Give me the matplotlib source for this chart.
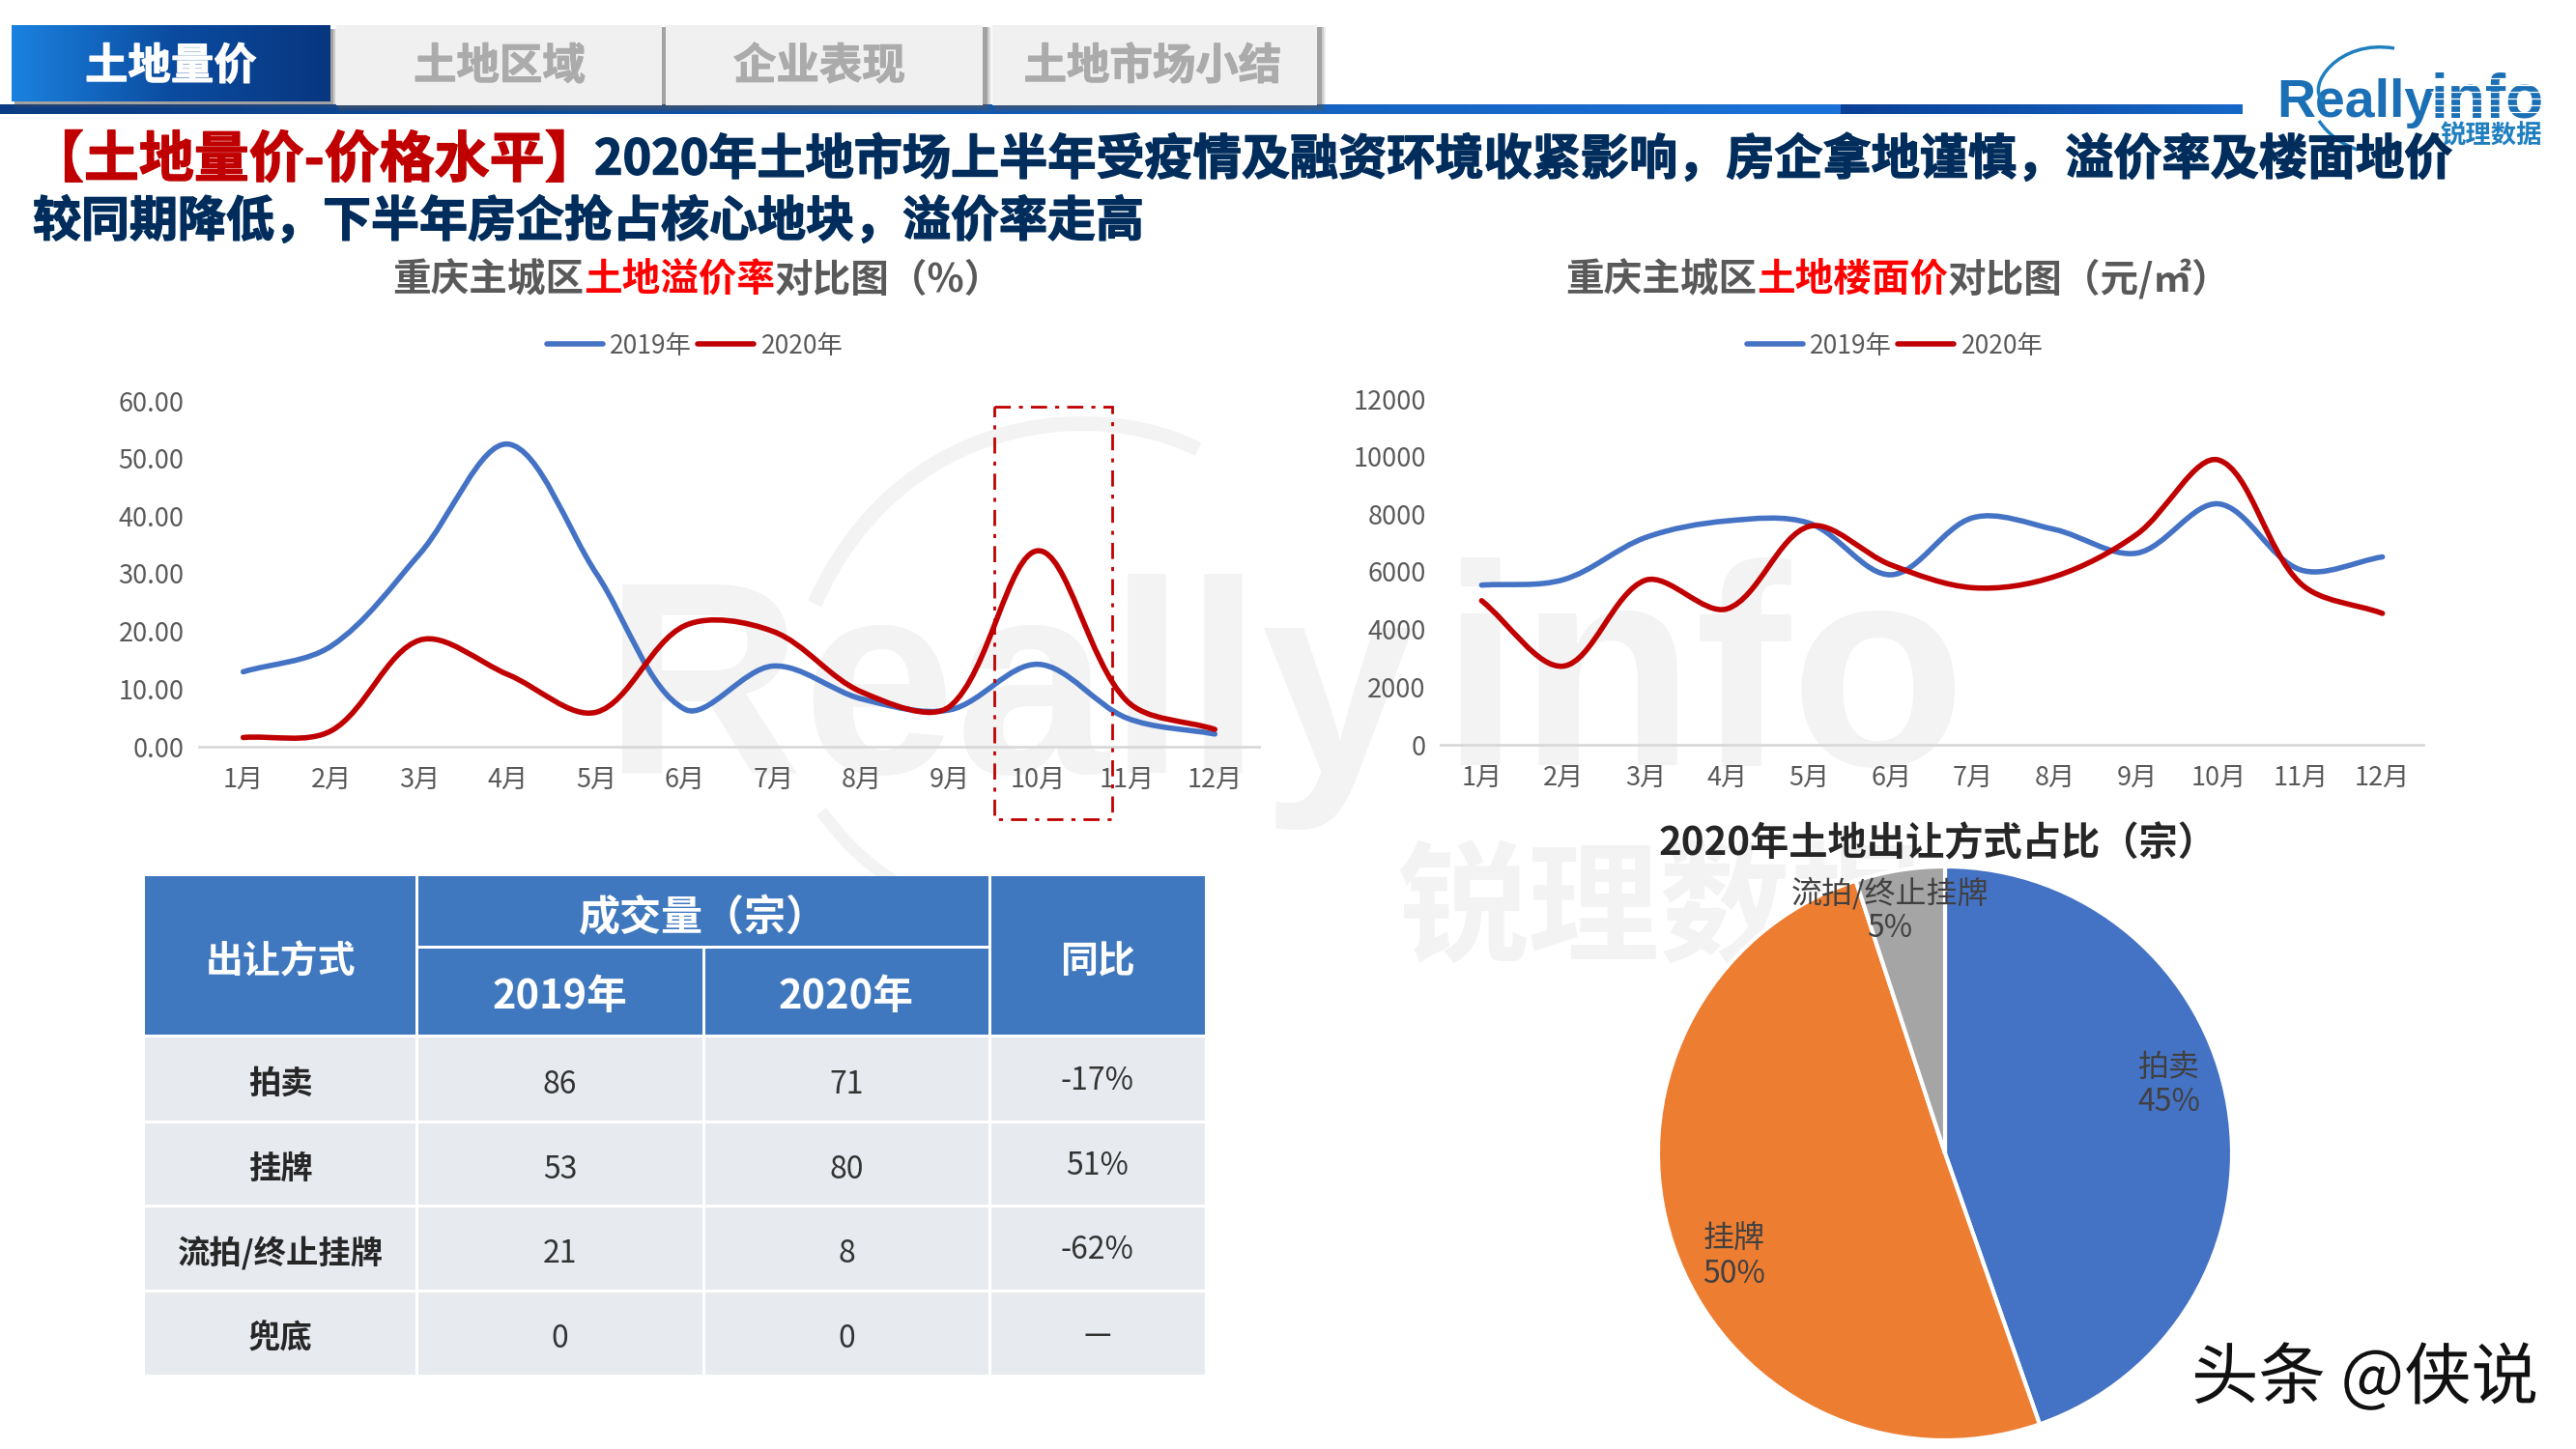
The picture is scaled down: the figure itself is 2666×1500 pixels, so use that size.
import numpy as np
import matplotlib
matplotlib.use('Agg')
import matplotlib.pyplot as plt
import matplotlib.patheffects as pe
from matplotlib.path import Path
from matplotlib.patches import PathPatch, Rectangle
from matplotlib.colors import LinearSegmentedColormap

plt.rcParams['font.family'] = ['Noto Sans CJK SC', 'DejaVu Sans']

W, H = 2666, 1500

months = ['1月', '2月', '3月', '4月', '5月', '6月', '7月', '8月', '9月', '10月', '11月', '12月']
premium_2019 = [13, 17.5, 33.5, 52.5, 30, 6.5, 14, 8.3, 6.4, 14.3, 5, 2.2]
premium_2020 = [1.6, 2.8, 18.5, 12.5, 6, 21, 20, 9.5, 7, 34, 8, 3]
price_2019 = [5540, 5730, 7190, 7770, 7690, 5900, 7880, 7470, 6650, 8360, 6070, 6520]
price_2020 = [5000, 2730, 5710, 4720, 7580, 6240, 5450, 5840, 7300, 9880, 5600, 4560]

tabs = ['土地量价', '土地区域', '企业表现', '土地市场小结']

methods = ['拍卖', '挂牌', '流拍/终止挂牌', '兜底']
deals_2019 = [86, 53, 21, 0]
deals_2020 = [71, 80, 8, 0]
yoy = ['-17%', '51%', '-62%', '—']

pie_names = ['拍卖', '挂牌', '流拍/终止挂牌']
pie_values = [71, 80, 8]
pie_pct = ['45%', '50%', '5%']

BLUE = '#4472C4'
RED = '#C00000'
GREY = '#595959'

fig = plt.figure(figsize=(W / 100, H / 100), dpi=100, facecolor='white')


def px_axes(left, top, right, bottom, **kw):
    return fig.add_axes([left / W, 1 - bottom / H, (right - left) / W, (bottom - top) / H], **kw)


def smooth_path(xs, ys, sx, sy):
    # smoothed line like the office charts, tangents scaled by chord length
    # sx and sy are pixels per data unit
    pts = np.column_stack([xs, ys]).astype(float)
    scale = np.array([sx, sy])
    n = len(pts)
    d = [np.linalg.norm((pts[i + 1] - pts[i]) * scale) for i in range(n - 1)]
    verts = [pts[0]]
    codes = [Path.MOVETO]
    for i in range(n - 1):
        p1 = pts[i]
        p2 = pts[i + 1]
        if i == 0:
            c1 = p1 + (p2 - p1) / 3
        else:
            c1 = p1 + (p2 - pts[i - 1]) * d[i] / (d[i - 1] + d[i]) / 3
        if i == n - 2:
            c2 = p2 - (p2 - p1) / 3
        else:
            c2 = p2 - (pts[i + 2] - p1) * d[i] / (d[i] + d[i + 1]) / 3
        verts += [c1, c2, p2]
        codes += [Path.CURVE4, Path.CURVE4, Path.CURVE4]
    return Path(verts, codes)


def gradient(ax, left, top, right, bottom, colors, zorder=2):
    cmap = LinearSegmentedColormap.from_list('g', colors)
    ax.imshow(np.linspace(0, 1, 256).reshape(1, -1), cmap=cmap, aspect='auto',
              extent=(left, right, bottom, top), zorder=zorder)


def run_text(ax, x, y, parts, size, weight='bold', stroke=0.0):
    # several colours on one line, each part starts where the last one ended
    renderer = fig.canvas.get_renderer()
    for s, color in parts:
        t = ax.text(x, y, s, color=color, fontsize=size, fontweight=weight, va='center', ha='left', zorder=6)
        if stroke:
            t.set_path_effects([pe.withStroke(linewidth=stroke, foreground=color)])
        x += t.get_window_extent(renderer).width


def line_chart(box, s2019, s2020, ymax, ystep, fmt):
    ax = px_axes(*box, facecolor='none')
    xs = np.arange(1, 13)
    sx = (box[2] - box[0]) / 12
    sy = (box[3] - box[1]) / ymax
    ax.add_patch(PathPatch(smooth_path(xs, s2019, sx, sy), fill=False, edgecolor=BLUE, lw=4, capstyle='round'))
    ax.add_patch(PathPatch(smooth_path(xs, s2020, sx, sy), fill=False, edgecolor=RED, lw=4, capstyle='round'))
    ax.set_xlim(0.5, 12.5)
    ax.set_ylim(0, ymax)
    ax.set_xticks(xs)
    ax.set_xticklabels(months)
    yt = np.arange(0, ymax + 1, ystep)
    ax.set_yticks(yt)
    ax.set_yticklabels([fmt % v for v in yt])
    ax.tick_params(length=0, labelsize=19.5, labelcolor=GREY)
    ax.tick_params(axis='x', pad=15)
    ax.tick_params(axis='y', pad=11)
    for side in ['top', 'left', 'right']:
        ax.spines[side].set_visible(False)
    ax.spines['bottom'].set_color('#D9D9D9')
    ax.spines['bottom'].set_linewidth(2)
    return ax


# background layer: watermark, tabs, top bar
bg = fig.add_axes([0, 0, 1, 1], zorder=0)
WM = '#F3F3F3'
bg.text(625, 800, 'Really', fontsize=205, fontweight='bold', family='Liberation Sans', color=WM, ha='left', va='baseline')
bg.text(1490, 792, 'info', fontsize=214, fontweight='bold', family='Liberation Sans', color=WM, ha='left', va='baseline')
for yy in np.arange(590, 880, 21):
    bg.plot([1480, 2060], [yy, yy], color='white', lw=3.5)
bg.add_patch(PathPatch(Path([(843, 625), (930, 430), (1130, 410), (1240, 465)],
                            [Path.MOVETO, Path.CURVE4, Path.CURVE4, Path.CURVE4]),
                       fill=False, edgecolor=WM, lw=11))
bg.add_patch(PathPatch(Path([(850, 840), (880, 880), (905, 900), (930, 915)],
                            [Path.MOVETO, Path.CURVE4, Path.CURVE4, Path.CURVE4]),
                       fill=False, edgecolor=WM, lw=9))
bg.text(1445, 945, '锐理数据', fontsize=98, fontweight='bold', color=WM, ha='left', va='center')

gradient(bg, 0, 108, 1905, 118, ['#0B3B82', '#1A72D8'])
gradient(bg, 1905, 108, 2321, 118, ['#0A3F96', '#1668C8'])

# soft tab shadows
tab_edges = [(348, 685), (689, 1017), (1027, 1363)]
for off, a in [(7, 0.12), (5, 0.2), (3, 0.35)]:
    bg.add_patch(Rectangle((15, 30), 327 + off, 75 + off, facecolor='#555555', alpha=a, edgecolor='none', zorder=3))
    for (l, r) in tab_edges:
        bg.add_patch(Rectangle((l + 2, 28), r - l + off, 81 + off, facecolor='#555555', alpha=a, edgecolor='none', zorder=3))
gradient(bg, 12, 26, 342, 105, ['#1B82E0', '#0B4CA0', '#08367F'], zorder=4)
for (l, r) in tab_edges:
    bg.add_patch(Rectangle((l, 26), r - l, 83, facecolor='#F0F0F0', edgecolor='none', zorder=4))
tab_centers = [177, 517, 848, 1193]
for i, name in enumerate(tabs):
    t = bg.text(tab_centers[i], 69, name, color='white' if i == 0 else '#ABABAB', fontsize=32, fontweight='bold',
                ha='center', va='center', zorder=5)
    t.set_path_effects([pe.withStroke(linewidth=0.8, foreground='white' if i == 0 else '#ABABAB')])

# logo
LOGO = '#1B6FB5'
bg.text(2356, 121, 'Really', fontsize=40, fontweight='bold', family='Liberation Sans', color=LOGO, ha='left', va='baseline', zorder=5)
bg.text(2516, 121, 'info', fontsize=46, fontweight='bold', family='Liberation Sans', color=LOGO, ha='left', va='baseline', zorder=5)
for yy in np.arange(81, 123, 7):
    bg.plot([2516, 2640], [yy, yy], color='white', lw=0.9, zorder=5)
bg.add_patch(PathPatch(Path([(2478, 50), (2420, 40), (2385, 90), (2405, 105)],
                            [Path.MOVETO, Path.CURVE4, Path.CURVE4, Path.CURVE4]),
                       fill=False, edgecolor='#1F7FBF', lw=2.5, zorder=5))
bg.add_patch(PathPatch(Path([(2400, 125), (2410, 140), (2425, 150), (2440, 155)],
                            [Path.MOVETO, Path.CURVE4, Path.CURVE4, Path.CURVE4]),
                       fill=False, edgecolor='#1F7FBF', lw=2.5, zorder=5))
bg.text(2578, 141, '锐理数据', fontsize=19, fontweight='bold', color='#1F7FBF', ha='center', va='center', zorder=5)

# table
cols = [150, 431, 728, 1024, 1247]
rows = [1072, 1161, 1248, 1336, 1424]
HEAD = '#3F78BE'
ROW = '#E7EAEF'
TOP = 907
MID = 980
gap = 1.5
bg.add_patch(Rectangle((cols[0], TOP), cols[1] - cols[0] - gap, rows[0] - TOP - gap, facecolor=HEAD, zorder=2))
bg.add_patch(Rectangle((cols[1] + gap, TOP), cols[3] - cols[1] - 2 * gap, MID - TOP - gap, facecolor=HEAD, zorder=2))
bg.add_patch(Rectangle((cols[1] + gap, MID + gap), cols[2] - cols[1] - 2 * gap, rows[0] - MID - 2 * gap, facecolor=HEAD, zorder=2))
bg.add_patch(Rectangle((cols[2] + gap, MID + gap), cols[3] - cols[2] - 2 * gap, rows[0] - MID - 2 * gap, facecolor=HEAD, zorder=2))
bg.add_patch(Rectangle((cols[3] + gap, TOP), cols[4] - cols[3] - gap, rows[0] - TOP - gap, facecolor=HEAD, zorder=2))
head_kw = dict(color='white', fontweight='bold', ha='center', va='center', zorder=5)
bg.text((cols[0] + cols[1]) / 2, 996, '出让方式', fontsize=28, **head_kw)
bg.text((cols[1] + cols[3]) / 2, 950, '成交量（宗）', fontsize=31, **head_kw)
bg.text((cols[1] + cols[2]) / 2, 1032, '2019年', fontsize=30, **head_kw)
bg.text((cols[2] + cols[3]) / 2, 1032, '2020年', fontsize=30, **head_kw)
bg.text((cols[3] + cols[4]) / 2, 996, '同比', fontsize=28, **head_kw)
for i, name in enumerate(methods):
    top, bottom = rows[i] + gap, rows[i + 1] - gap
    for c in range(4):
        l = cols[c] + (gap if c else 0)
        r = cols[c + 1] - (gap if c < 3 else 0)
        bg.add_patch(Rectangle((l, top), r - l, bottom - top, facecolor=ROW, zorder=2))
    mid = (top + bottom) / 2 + 6
    bg.text((cols[0] + cols[1]) / 2, mid, name, fontsize=24, fontweight='bold', color='#262626',
            ha='center', va='center', zorder=5)
    bg.text((cols[1] + cols[2]) / 2, mid, str(deals_2019[i]), fontsize=23, color='#333333', ha='center', va='center', zorder=5)
    bg.text((cols[2] + cols[3]) / 2, mid, str(deals_2020[i]), fontsize=23, color='#333333', ha='center', va='center', zorder=5)
    bg.text((cols[3] + cols[4]) / 2, mid - 4, yoy[i], fontsize=23, color='#333333', ha='center', va='center', zorder=5)

bg.set_xlim(0, W)
bg.set_ylim(H, 0)
bg.axis('off')

# line charts
ax1 = line_chart((206, 415, 1303, 773), premium_2019, premium_2020, 60, 10, '%.2f')
ax1.set_zorder(2)
ax2 = line_chart((1491, 413, 2508, 771), price_2019, price_2020, 12000, 2000, '%d')
ax2.set_zorder(2)

# pie
ax3 = px_axes(2013 - 300, 1194 - 300, 2013 + 300, 1194 + 300, facecolor='none')
ax3.set_zorder(2)
ax3.pie(pie_values, colors=[BLUE, '#ED7D31', '#A5A5A5'], startangle=90, counterclock=False, radius=1,
        wedgeprops=dict(edgecolor='white', linewidth=3))
ax3.set_xlim(-1.01, 1.01)
ax3.set_ylim(-1.01, 1.01)

# top layer: titles, labels, highlight box
fg = fig.add_axes([0, 0, 1, 1], zorder=5, facecolor='none')
fg.set_xlim(0, W)
fg.set_ylim(H, 0)
fg.axis('off')

fig.canvas.draw()
run_text(fg, 30, 166, [('【土地量价-价格水平】', RED)], 41, stroke=1)
run_text(fg, 615, 166, [('2020年土地市场上半年受疫情及融资环境收紧影响，房企拿地谨慎，溢价率及楼面地价', '#002D5C')], 36.1, stroke=1)
run_text(fg, 34, 230, [('较同期降低，下半年房企抢占核心地块，溢价率走高', '#002D5C')], 36, stroke=1)
run_text(fg, 406, 290, [('重庆主城区', GREY), ('土地溢价率', '#FF0000'), ('对比图（%）', GREY)], 28.5)
run_text(fg, 1620, 290, [('重庆主城区', GREY), ('土地楼面价', '#FF0000'), ('对比图（元/㎡）', GREY)], 28.5)
run_text(fg, 1717, 874, [('2020年土地出让方式占比（宗）', '#262626')], 29)

for x0 in (566, 1808):
    fg.plot([x0, x0 + 58], [356, 356], color=BLUE, lw=4, solid_capstyle='round')
    fg.text(x0 + 65, 358, '2019年', fontsize=19, color=GREY, ha='left', va='center')
    fg.plot([x0 + 156, x0 + 214], [356, 356], color=RED, lw=4, solid_capstyle='round')
    fg.text(x0 + 222, 358, '2020年', fontsize=19, color=GREY, ha='left', va='center')

fg.add_patch(Rectangle((1029, 421), 122, 427, fill=False, edgecolor=RED, lw=2, linestyle=(0, (6, 3, 1.5, 3))))

label_pos = [(2245, 1123), (1795, 1301), (1956, 943)]
for (x, y), name, pct in zip(label_pos, pie_names, pie_pct):
    fg.text(x, y - 18, name, fontsize=23, color='#404040', ha='center', va='center')
    fg.text(x, y + 18, pct, fontsize=23, color='#404040', ha='center', va='center')

fg.text(2268, 1428, '头条 @侠说', fontsize=50, color='#111111', ha='left', va='center',
        path_effects=[pe.withStroke(linewidth=3, foreground='white')])

fig.savefig('out.png', dpi=100, facecolor='white')
